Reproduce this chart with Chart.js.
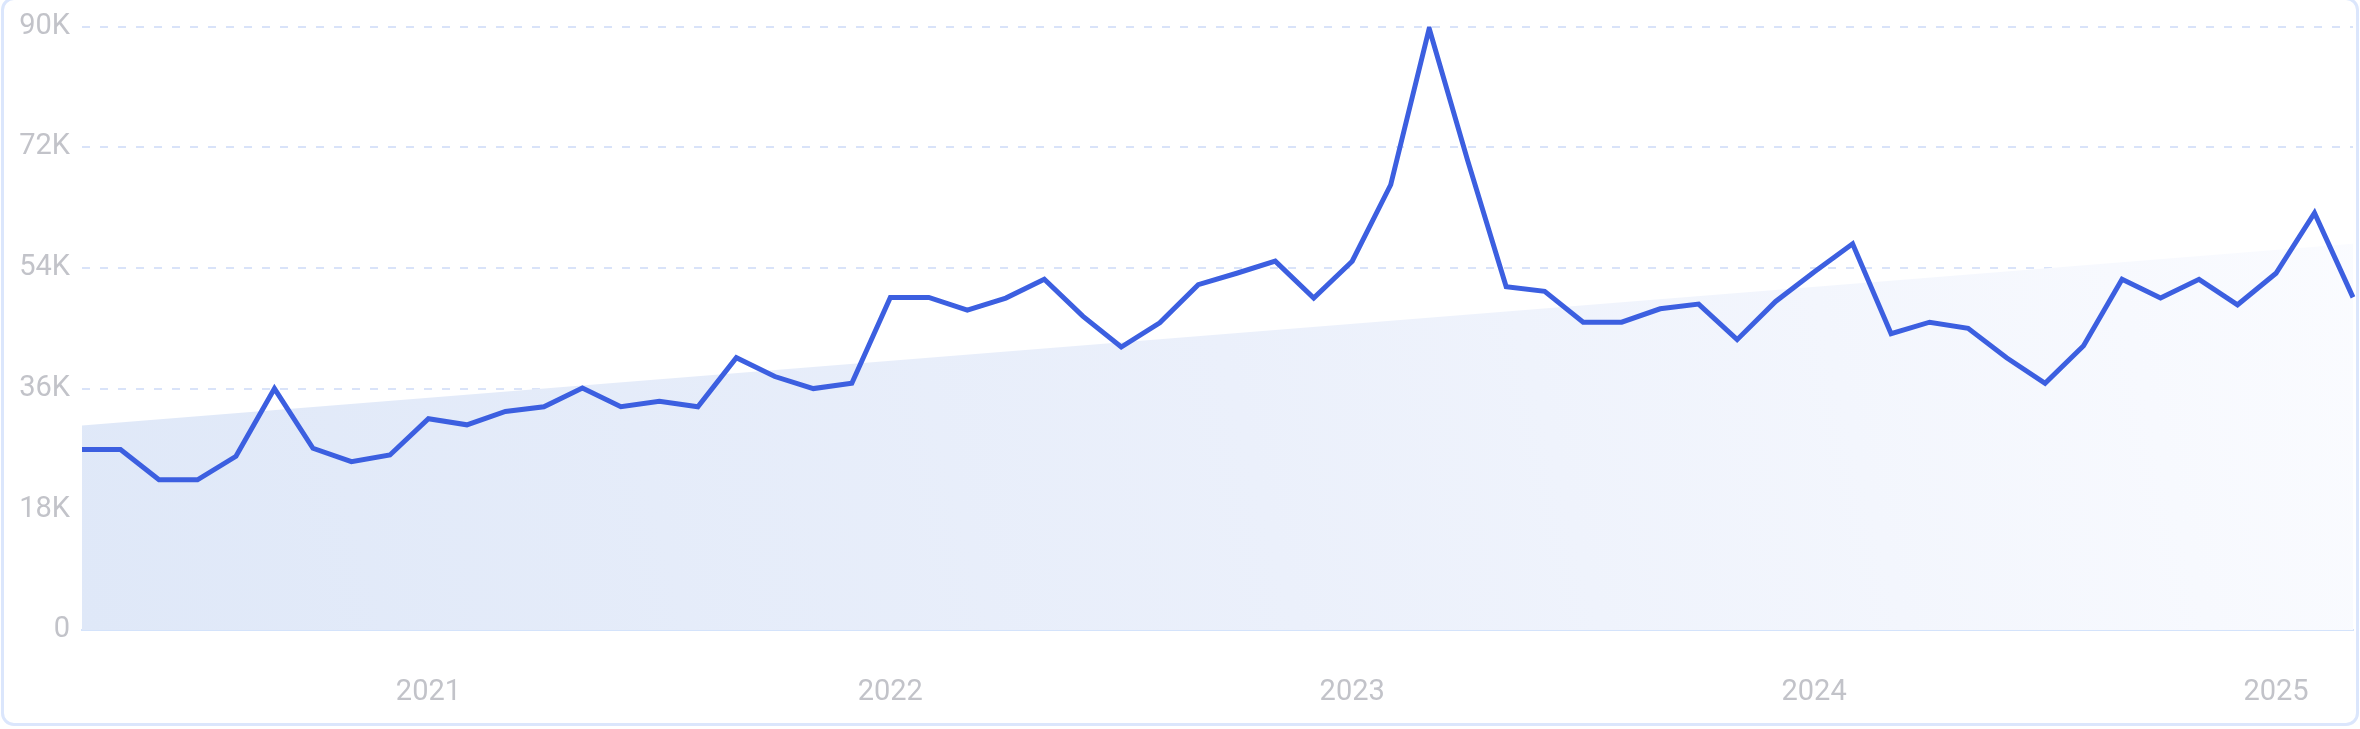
<!DOCTYPE html>
<html>
<head>
<meta charset="utf-8">
<script src="https://cdn.jsdelivr.net/npm/chart.js@4"></script>
<style>
  html, body { margin: 0; padding: 0; background: #ffffff; }
  body { width: 2360px; height: 729px; position: relative; overflow: hidden; }
  .card {
    position: absolute; left: 1px; top: -3px; width: 2358px; height: 729px;
    box-sizing: border-box; border: 3px solid #dbe6fc; border-radius: 13px;
  }
  #trendChart { position: absolute; left: 0; top: 0; }
</style>
</head>
<body>
<div class="card"></div>
<canvas id="trendChart" width="2360" height="729"></canvas>
<script>
// monthly categories, Apr 2020 .. Mar 2025
const months = [
    "2020-04","2020-05","2020-06","2020-07","2020-08","2020-09","2020-10","2020-11","2020-12",
    "2021-01","2021-02","2021-03","2021-04","2021-05","2021-06","2021-07","2021-08","2021-09","2021-10","2021-11","2021-12",
    "2022-01","2022-02","2022-03","2022-04","2022-05","2022-06","2022-07","2022-08","2022-09","2022-10","2022-11","2022-12",
    "2023-01","2023-02","2023-03","2023-04","2023-05","2023-06","2023-07","2023-08","2023-09","2023-10","2023-11","2023-12",
    "2024-01","2024-02","2024-03","2024-04","2024-05","2024-06","2024-07","2024-08","2024-09","2024-10","2024-11","2024-12",
    "2025-01","2025-02","2025-03"
];
const searches = [
    26900, 26900, 22400, 22400, 25900, 36000, 27100, 25100, 26100,
    31500, 30600, 32600, 33300, 36100, 33300, 34100, 33300, 40600, 37800, 36000, 36800,
    49600, 49600, 47700, 49500, 52300, 46800, 42200, 45800, 51500, 53200, 55000, 49500,
    55000, 66400, 89700, 70000, 51200, 50500, 45900, 45900, 47900, 48600, 43300, 49000,
    53400, 57600, 44200, 45900, 45000, 40600, 36800, 42400, 52300, 49500, 52300, 48500,
    53200, 62200, 49600
];
// straight trend band: only the two end values, joined by spanGaps
const trendStart = 30500;
const trendEnd = 57600;
const yTicks = [0, 18000, 36000, 54000, 72000, 90000];

const trend = months.map((m, i) => i === 0 ? trendStart : (i === months.length - 1 ? trendEnd : null));

const tickFont = { family: "Roboto, sans-serif", size: 29, lineHeight: 1 };
const tickColor = "#c2c3c9";

const ctx = document.getElementById('trendChart');

new Chart(ctx, {
    type: "line",
    data: {
        labels: months,
        datasets: [{
            data: searches,
            borderColor: "#3c5fe0",
            borderWidth: 5,
            pointRadius: 0,
            tension: 0,
            fill: false
        }, {
            data: trend,
            spanGaps: true,
            borderWidth: 0,
            borderColor: "rgba(0,0,0,0)",
            pointRadius: 0,
            fill: "origin",
            backgroundColor: function(context){
                const area = context.chart.chartArea;
                if (!area) return "#e3eaf8";
                const g = context.chart.ctx.createLinearGradient(area.left, area.bottom, area.right, area.top);
                g.addColorStop(0, "#dfe8f8");
                g.addColorStop(0.5, "#ebf0fb");
                g.addColorStop(1, "#fbfcff");
                return g;
            }
        }]
    },
    options: {
        responsive: false,
        devicePixelRatio: 1,
        animation: false,
        layout: { padding: { left: 0, right: 7, top: 0, bottom: 0 } },
        plugins: {
            legend: { display: false },
            tooltip: { enabled: false }
        },
        scales: {
            x: {
                grid: { display: false, drawTicks: false },
                border: { display: true, color: "#d4e3fb", width: 2 },
                ticks: {
                    autoSkip: false,
                    maxRotation: 0,
                    padding: 48,
                    color: tickColor,
                    font: tickFont,
                    callback: function(val, i){
                        const m = months[i];
                        return m.endsWith("-01") ? m.slice(0, 4) : "";
                    }
                },
                afterFit: function(scale){
                    scale.height = 99;
                    scale.paddingLeft = 0;
                    scale.paddingRight = 0;
                }
            },
            y: {
                min: 0,
                max: 90000,
                afterBuildTicks: function(scale){ scale.ticks = yTicks.map(v => ({ value: v })); },
                grid: { color: "#d9e3f9", lineWidth: 2, drawTicks: false },
                border: { display: false, dash: [8, 10] },
                ticks: {
                    padding: 12,
                    color: tickColor,
                    font: tickFont,
                    callback: function(v){ return v === 0 ? "0" : (v / 1000) + "K"; }
                },
                afterFit: function(scale){ scale.width = 82; }
            }
        }
    }
});
</script>
</body>
</html>
